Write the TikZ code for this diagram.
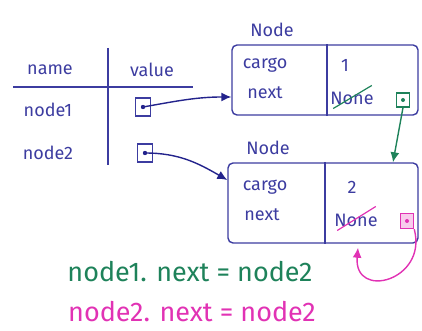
\documentclass[tikz,border=0pt]{standalone}
\usepackage{fontspec}
\setmainfont{Fira Sans}
\usetikzlibrary{arrows.meta, positioning}
\definecolor{inkblue}{RGB}{60,60,160}
\definecolor{darkink}{RGB}{35,35,140}
\definecolor{inkgreen}{RGB}{30,130,90}
\definecolor{inkpink}{RGB}{225,50,180}

\begin{document}
\begin{tikzpicture}[x=1pt, y=1pt,
  hand/.style={font=\fontsize{18}{21}\selectfont, text=inkblue, inner sep=0pt},
  record/.style={rectangle, rounded corners=5pt, draw=inkblue, line width=1.4pt},
  ptr/.style={rectangle, draw=inkblue, line width=1.2pt, minimum width=15pt,
              minimum height=18pt, inner sep=0pt},
  link/.style={-{Latex[length=10pt,width=9pt]}, line width=1.4pt},
  rule/.style={draw=inkblue, line width=1.3pt}
]
\useasboundingbox (0,0) rectangle (422,331);

% names and values
\node[hand] (hname)  at (50,261)  {name};
\node[hand] (hvalue) at (152,261) {value};
\coordinate (tl) at (13,244);
\coordinate (tr) at (193,244);
\coordinate (tt) at (108,283);
\coordinate (tb) at (108,166);
\draw[rule] (tl) -- (tr);
\draw[rule] (tt) -- (tb);
\node[hand] (name1) at (48,221) {node1};
\node[hand] (name2) at (48,178) {node2};
\node[ptr] (v1) at (143,224) {};
\node[ptr] (v2) at (145,178) {};
\fill[darkink] (v1.center) circle (2.2pt);
\fill[darkink] (v2.center) circle (2.2pt);

% first record
\node[record, minimum width=186pt, minimum height=70pt] (n1) at (325,251) {};
\node[hand] (lbl1) at (272,301) {Node};
\coordinate (d1) at (327,251);
\draw[rule] (d1 |- n1.north) -- (d1 |- n1.south);
\node[hand] (cargo1) at (265,266) {cargo};
\node[hand] (next1)  at (265,238) {next};
\node[hand] (one)    at (345,266) {1};
\node[hand] (none1)  at (352,233) {None};
\draw[inkgreen, line width=1.2pt] ([xshift=3pt, yshift=-4pt]none1.south west) -- ([xshift=-2pt, yshift=6pt]none1.north east);
\node[ptr, draw=inkgreen, minimum width=13pt, minimum height=14pt] (g1) at (403,231) {};
\fill[inkgreen] (g1.center) circle (2pt);

% second record
\node[record, minimum width=190pt, minimum height=80pt] (n2) at (323,128) {};
\node[hand] (lbl2) at (268,183) {Node};
\coordinate (d2) at (325,128);
\draw[rule] (d2 |- n2.north) -- (d2 |- n2.south);
\node[hand] (cargo2) at (265,144) {cargo};
\node[hand] (next2)  at (262,116) {next};
\node[hand] (two)    at (352,144) {2};
\node[hand] (none2)  at (356,111) {None};
\draw[inkpink, line width=1.2pt] ([xshift=3pt, yshift=-4pt]none2.south west) -- ([xshift=-2pt, yshift=7pt]none2.north east);
\node[ptr, draw=inkpink, fill=inkpink!25, line width=1.5pt, minimum width=13pt, minimum height=15pt] (m2) at (407,110) {};
\fill[inkpink] (m2.center) circle (2pt);

% references
\draw[link, darkink] (v1.center) to[out=10, in=180] ([yshift=-17pt]n1.west);
\draw[link, darkink] (v2.center) to[out=0, in=150] ([yshift=23pt]n2.west);
\draw[link, inkgreen] (g1.south) -- ([xshift=70pt]n2.north);
\draw[link, inkpink] (m2.south east) to[out=-75, in=-95, looseness=2.3] ([xshift=35pt, yshift=-4pt]n2.south);

% assignments
\node[font=\fontsize{27}{31}\selectfont, text=inkgreen] (eq1) at (190,59) {node1. next = node2};
\node[font=\fontsize{27}{31}\selectfont, text=inkpink]  (eq2) at (192,19) {node2. next = node2};
\end{tikzpicture}
\end{document}
